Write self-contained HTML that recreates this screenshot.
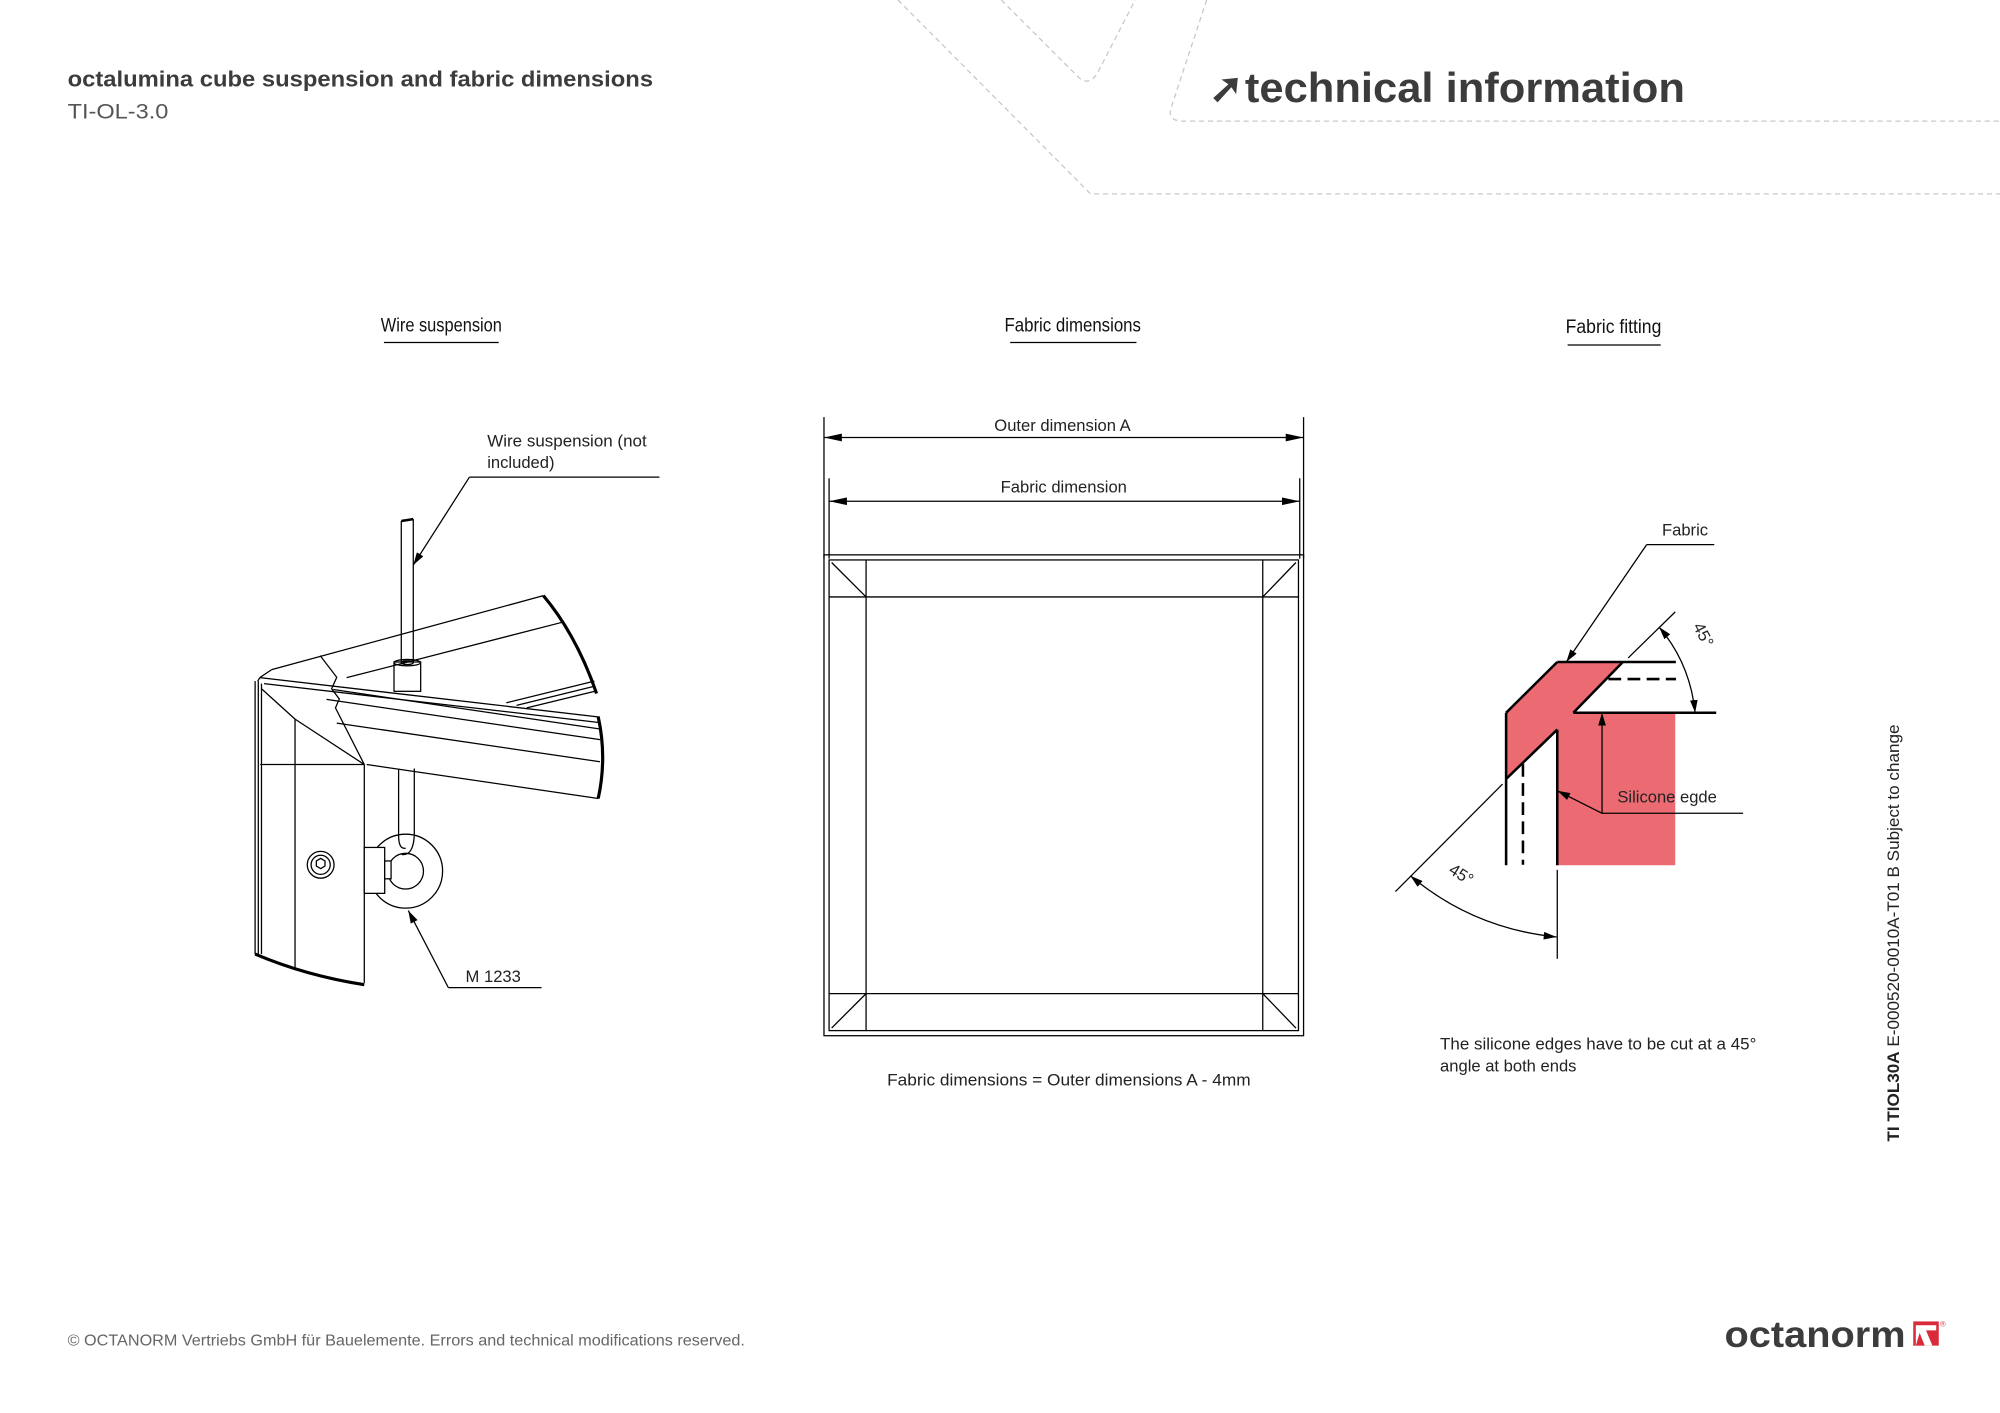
<!DOCTYPE html>
<html><head><meta charset="utf-8"><style>
html,body{margin:0;padding:0;background:#fff}
svg{display:block}
text{font-family:"Liberation Sans",sans-serif}
</style></head><body>
<svg width="2000" height="1413" viewBox="0 0 1568 1107.8" xmlns="http://www.w3.org/2000/svg">
<defs>
<marker id="a" viewBox="0 0 10 6" refX="10" refY="3" markerWidth="10" markerHeight="6" orient="auto-start-reverse" markerUnits="userSpaceOnUse"><path d="M0,0L10,3L0,6z" fill="#000"/></marker>
<marker id="b" viewBox="0 0 14 6" refX="14" refY="3" markerWidth="14" markerHeight="6" orient="auto-start-reverse" markerUnits="userSpaceOnUse"><path d="M0,0L14,3L0,6z" fill="#000"/></marker>
</defs>
<g fill="none" stroke="#c8c8c8" stroke-width="1" stroke-dasharray="4,3">
<path d="M704,0 L855,152 L1568,152"/>
<path d="M785,0 L845,60 Q853,68 860,58 L890,0"/>
<path d="M946,0 L918,85 Q915,95 928,95 L1568,95"/>
</g>
<text x="53" y="68" font-size="17.5" font-weight="bold" fill="#3c3c3c" textLength="459" lengthAdjust="spacingAndGlyphs">octalumina cube suspension and fabric dimensions</text>
<text x="53" y="93" font-size="17" fill="#555" textLength="79" lengthAdjust="spacingAndGlyphs">TI-OL-3.0</text>
<text x="948" y="80" font-size="32" font-weight="bold" fill="#3c3c3c">➚</text>
<text x="976" y="80" font-size="33" font-weight="bold" fill="#3c3c3c" textLength="345" lengthAdjust="spacingAndGlyphs">technical information</text>

<g font-size="15" fill="#111" text-anchor="middle">
<text x="346" y="260" textLength="95" lengthAdjust="spacingAndGlyphs">Wire suspension</text>
<text x="841" y="260" textLength="107" lengthAdjust="spacingAndGlyphs">Fabric dimensions</text>
<text x="1265" y="261" textLength="75" lengthAdjust="spacingAndGlyphs">Fabric fitting</text>
</g>
<g stroke="#000" stroke-width="1">
<line x1="301" y1="268.5" x2="391" y2="268.5"/>
<line x1="792" y1="268.5" x2="891" y2="268.5"/>
<line x1="1229" y1="270.5" x2="1302" y2="270.5"/>
</g>

<g fill="none" stroke="#000" stroke-width="1">
<line x1="314.6" y1="408.5" x2="314.6" y2="519"/>
<line x1="324" y1="407" x2="324" y2="519"/>
<line x1="314.6" y1="408.5" x2="324" y2="407" stroke-width="2"/>
<rect x="308.9" y="519" width="20.9" height="23" fill="#fff"/>
<ellipse cx="319.3" cy="519.5" rx="10.4" ry="2.5"/>
<ellipse cx="319.3" cy="519.5" rx="4.7" ry="1.5"/>
<line x1="213" y1="525" x2="426" y2="467"/>
<line x1="271.8" y1="531.3" x2="440.3" y2="488"/>
<path d="M426,467 Q452,498 467.7,543.7" stroke-width="2.5"/>
<line x1="397" y1="551" x2="466" y2="534"/>
<line x1="405" y1="553" x2="466" y2="538"/>
<line x1="413" y1="555" x2="466" y2="542"/>
<line x1="203.8" y1="531.3" x2="470.4" y2="562.2"/>
<line x1="207" y1="536" x2="470.4" y2="566.5"/>
<line x1="261.3" y1="540.6" x2="470.4" y2="571.5"/>
<line x1="256" y1="548.3" x2="470.4" y2="579.9"/>
<line x1="264" y1="566.9" x2="470.4" y2="597.2"/>
<line x1="287.5" y1="599.4" x2="469.1" y2="626"/>
<path d="M469,562 Q476,594 469,626" stroke-width="2.5"/>
<path d="M213,525 L204,531 L202,534"/>
<line x1="200" y1="534" x2="200" y2="748"/>
<line x1="202.5" y1="534" x2="202.5" y2="748"/>
<line x1="205" y1="536" x2="205" y2="748"/>
<line x1="231.3" y1="563.8" x2="231.3" y2="758.8"/>
<line x1="285.6" y1="599.4" x2="285.6" y2="770.6"/>
<line x1="204" y1="599.4" x2="285.6" y2="599.4"/>
<line x1="231.3" y1="563.8" x2="285.6" y2="599.4"/>
<line x1="205" y1="540" x2="231.3" y2="563.8"/>
<path d="M251,514 L264,531 L260,540 L266,548 L263,555 L285.6,599.4"/>
<path d="M200,748 Q240,765 285.6,772" stroke-width="2.5"/>
<circle cx="251.4" cy="678" r="10.5"/>
<circle cx="251.4" cy="678" r="7.5"/>
<path d="M248,675 l3.4,-2 l3.4,2 l0,4 l-3.4,2 l-3.4,-2z"/>
<path d="M312.5,602.5 L312.5,655 Q312.5,666 318,665"/>
<path d="M324.8,602.5 L324.8,655 Q324,671 315,670"/>
<circle cx="318" cy="683" r="29"/>
<circle cx="318" cy="683" r="14"/>
<rect x="285.6" y="664.4" width="16" height="36" fill="#fff"/>
<rect x="301.6" y="675" width="5" height="14" fill="#fff"/>
<line x1="324" y1="443" x2="368" y2="374.1" marker-start="url(#a)"/>
<line x1="368" y1="374.1" x2="517" y2="374.1"/>
<line x1="320.1" y1="713.9" x2="351.5" y2="774.3" marker-start="url(#a)"/>
<line x1="351.5" y1="774.3" x2="424.6" y2="774.3"/>
</g>
<g font-size="13" fill="#222">
<text x="382" y="350" textLength="125" lengthAdjust="spacingAndGlyphs">Wire suspension (not</text>
<text x="382" y="367">included)</text>
<text x="365" y="770">M 1233</text>
</g>

<g fill="none" stroke="#000" stroke-width="1">
<line x1="646" y1="327" x2="646" y2="438"/>
<line x1="1022" y1="327" x2="1022" y2="438"/>
<line x1="646" y1="343" x2="1022" y2="343" marker-start="url(#b)" marker-end="url(#b)"/>
<line x1="650" y1="375" x2="650" y2="438"/>
<line x1="1019" y1="375" x2="1019" y2="438"/>
<line x1="650" y1="393" x2="1019" y2="393" marker-start="url(#b)" marker-end="url(#b)"/>
<rect x="646" y="435" width="376" height="377"/>
<rect x="650" y="439" width="368" height="369"/>
<line x1="650" y1="468" x2="1018" y2="468"/>
<line x1="650" y1="779" x2="1018" y2="779"/>
<line x1="679" y1="439" x2="679" y2="808"/>
<line x1="990" y1="439" x2="990" y2="808"/>
<line x1="652" y1="441" x2="679" y2="468"/>
<line x1="1016" y1="441" x2="990" y2="468"/>
<line x1="652" y1="806" x2="679" y2="779"/>
<line x1="1016" y1="806" x2="990" y2="779"/>
</g>
<g font-size="13" fill="#222" text-anchor="middle">
<text x="833" y="338">Outer dimension A</text>
<text x="834" y="386">Fabric dimension</text>
<text x="838" y="851" textLength="285" lengthAdjust="spacingAndGlyphs">Fabric dimensions = Outer dimensions A - 4mm</text>
</g>

<polygon points="1220.9,519 1272.3,519 1233.5,558.8 1313.4,558.8 1313.4,678.4 1220.9,678.4 1220.9,572 1180.8,610.7 1180.8,558.8" fill="#ec6b72"/>
<g fill="none" stroke="#000" stroke-width="2">
<line x1="1220.9" y1="519" x2="1313.9" y2="519"/>
<line x1="1272.3" y1="519" x2="1233.5" y2="558.8"/>
<line x1="1233.5" y1="558.8" x2="1345.5" y2="558.8"/>
<line x1="1261" y1="532.4" x2="1314" y2="532.4" stroke-dasharray="10,5"/>
<line x1="1180.8" y1="558.8" x2="1220.9" y2="519"/>
<line x1="1180.8" y1="558.8" x2="1180.8" y2="678.4"/>
<line x1="1194" y1="599" x2="1194" y2="678" stroke-dasharray="10,5"/>
<line x1="1220.9" y1="572" x2="1220.9" y2="678.4"/>
<line x1="1220.9" y1="572" x2="1180.8" y2="610.7"/>
</g>
<g fill="none" stroke="#000" stroke-width="1">
<line x1="1220.9" y1="682" x2="1220.9" y2="751.7"/>
<line x1="1178" y1="614.7" x2="1094" y2="699"/>
<line x1="1276.5" y1="515.8" x2="1313.4" y2="479.7"/>
<path d="M1300.7,491.6 Q1325,520 1329,558.8" marker-start="url(#a)" marker-end="url(#a)"/>
<path d="M1105.7,686.6 Q1155,728 1220.3,734.6" marker-start="url(#a)" marker-end="url(#a)"/>
<line x1="1228" y1="519" x2="1291" y2="427" marker-start="url(#a)"/>
<line x1="1291" y1="427" x2="1344" y2="427"/>
<line x1="1256" y1="637.6" x2="1256" y2="558.8" marker-end="url(#a)"/>
<line x1="1256" y1="637.6" x2="1221" y2="620" marker-end="url(#a)"/>
<line x1="1256" y1="637.6" x2="1366.6" y2="637.6"/>
</g>
<g font-size="13" fill="#222">
<text x="1303" y="420">Fabric</text>
<text x="1268" y="629">Silicone egde</text>
<text transform="translate(1327,491) rotate(62)">45°</text>
<text transform="translate(1135,684) rotate(32)">45°</text>
<text x="1129" y="823" textLength="248" lengthAdjust="spacingAndGlyphs">The silicone edges have to be cut at a 45°</text>
<text x="1129" y="840">angle at both ends</text>
</g>
<text transform="translate(1489,895) rotate(-90)" font-size="13" fill="#222" textLength="327" lengthAdjust="spacingAndGlyphs"><tspan font-weight="bold">TI TIOL30A</tspan> E-000520-0010A-T01 B Subject to change</text>

<text x="53" y="1055" font-size="12.5" fill="#666" textLength="531" lengthAdjust="spacingAndGlyphs">© OCTANORM Vertriebs GmbH für Bauelemente. Errors and technical modifications reserved.</text>
<text x="1352" y="1056" font-size="29" font-weight="bold" fill="#3c3c3c" textLength="142" lengthAdjust="spacingAndGlyphs">octanorm</text>
<rect x="1500" y="1036" width="20" height="19" fill="#d92b3a"/>
<path d="M1502,1039 L1518,1039 L1518,1043 L1510,1043 L1515,1055 L1509,1055 L1505,1045 L1502,1055z" fill="#fff"/>
<text x="1521" y="1040" font-size="6" fill="#d92b3a">®</text>
</svg>
</body></html>
